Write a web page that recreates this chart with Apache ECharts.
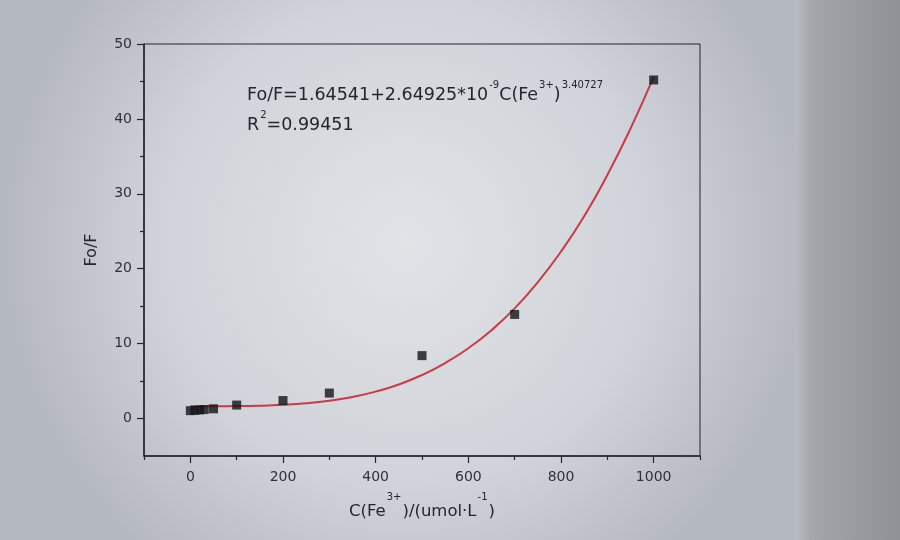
<!DOCTYPE html>
<html>
<head>
<meta charset="utf-8">
<title>Fo/F vs C(Fe3+)</title>
<script src="https://cdn.jsdelivr.net/npm/echarts@6/dist/echarts.min.js"></script>
<style>
  html, body { margin: 0; padding: 0; }
  #main { width: 900px; height: 540px; }
</style>
</head>
<body>
<div id="main"></div>
<script>
// measured points
const concValues = [0, 10, 20, 30, 50, 100, 200, 300, 500, 700, 1000];
const ratioValues = [1.05, 1.1, 1.15, 1.2, 1.3, 1.8, 2.4, 3.4, 8.4, 13.9, 45.2];

// fitted curve
const fitX = [0, 50, 100, 150, 200, 250, 300, 350, 400, 450, 500, 550, 600, 650, 700, 750, 800, 850, 900, 950, 1000];
const fitY = [1.65, 1.65, 1.66, 1.71, 1.83, 2.04, 2.38, 2.88, 3.59, 4.55, 5.81, 7.41, 9.39, 11.8, 14.7, 18.2, 22.3, 27.0, 32.5, 38.7, 45.6];

// tick labels
const xMajorTicks = [0, 200, 400, 600, 800, 1000];
const xMinorTicks = [-100, 100, 300, 500, 700, 900, 1100];
const yMajorTicks = [0, 10, 20, 30, 40, 50];
const yMinorTicks = [5, 15, 25, 35, 45];

const inkColor = "#22262d";
const fontName = "DejaVu Sans";

const chartInstance = echarts.init(document.getElementById("main"));

const toPairs = (xs, ys) => xs.map((x, i) => [x, ys[i]]);

const option = {
  backgroundColor: {
    type: "radial",
    x: 0.45,
    y: 0.45,
    r: 0.75,
    colorStops: [
      { offset: 0, color: "#e1e3e7" },
      { offset: 0.6, color: "#d0d3d9" },
      { offset: 1, color: "#b4b8bf" },
    ],
  },
  animation: false,
  textStyle: { fontFamily: fontName, color: inkColor },
  grid: {
    left: 144,
    right: 200,
    top: 44,
    bottom: 84,
    show: true,
    borderColor: inkColor,
    borderWidth: 1,
  },
  graphic: [
    // screen bezel on the right side of the photo
    {
      type: "rect",
      left: 795,
      top: 0,
      shape: { width: 105, height: 540 },
      style: {
        fill: {
          type: "linear",
          x: 0, y: 0, x2: 1, y2: 0,
          colorStops: [
            { offset: 0, color: "#b9bcc1" },
            { offset: 0.15, color: "#a3a6ab" },
            { offset: 1, color: "#8e9196" },
          ],
        },
      },
      z: -1,
    },
    // fit equation
    {
      type: "text",
      left: 247,
      top: 80,
      style: {
        text: "Fo/F=1.64541+2.64925*10{sup|-9}C(Fe{sup|3+}){sup|3.40727}\n{base|R}{sup|2}=0.99451",
        font: "17.5px " + fontName,
        fill: inkColor,
        lineHeight: 30,
        rich: {
          base: { fontSize: 17.5, fontFamily: fontName, lineHeight: 30 },
          sup: {
            fontSize: 10,
            fontFamily: fontName,
            verticalAlign: "top",
            lineHeight: 25,
            padding: [0, 0, 0, 1],
          },
        },
      },
    },
  ],
  xAxis: [
    {
      type: "value",
      min: -100,
      max: 1100,
      name: "{base|C(Fe}{sup|3+}{base|)/(umol·L}{sup|-1}{base|)}",
      nameLocation: "middle",
      nameGap: 36,
      nameTextStyle: {
        rich: {
          base: { fontSize: 16.5, fontFamily: fontName, color: inkColor, lineHeight: 40 },
          sup: { fontSize: 10, fontFamily: fontName, color: inkColor, verticalAlign: "top", lineHeight: 14, padding: [0, 1, 0, 1] },
        },
      },
      splitLine: { show: false },
      axisLine: { show: true, onZero: false, lineStyle: { color: inkColor, width: 1.5 } },
      axisTick: { show: true, length: 7, customValues: xMajorTicks, lineStyle: { color: inkColor, width: 1.2 } },
      axisLabel: {
        customValues: xMajorTicks,
        margin: 14,
        fontSize: 14,
        color: "#2d3138",
        formatter: (v) => String(v),
      },
    },
    {
      // minor ticks only
      type: "value",
      position: "bottom",
      min: -100,
      max: 1100,
      splitLine: { show: false },
      axisLine: { show: false, onZero: false },
      axisLabel: { show: false },
      axisTick: { show: true, length: 4, customValues: xMinorTicks, lineStyle: { color: inkColor, width: 1.2 } },
    },
  ],
  yAxis: [
    {
      type: "value",
      min: -5,
      max: 50,
      name: "Fo/F",
      nameLocation: "middle",
      nameRotate: 90,
      nameGap: 44,
      nameTextStyle: { fontSize: 16, fontFamily: fontName, color: inkColor },
      splitLine: { show: false },
      axisLine: { show: true, onZero: false, lineStyle: { color: inkColor, width: 1.5 } },
      axisTick: { show: true, length: 7, customValues: yMajorTicks, lineStyle: { color: inkColor, width: 1.2 } },
      axisLabel: { customValues: yMajorTicks, margin: 12, fontSize: 14, color: "#2d3138" },
    },
    {
      type: "value",
      position: "left",
      min: -5,
      max: 50,
      splitLine: { show: false },
      axisLine: { show: false, onZero: false },
      axisLabel: { show: false },
      axisTick: { show: true, length: 4, customValues: yMinorTicks, lineStyle: { color: inkColor, width: 1.2 } },
    },
  ],
  series: [
    {
      type: "line",
      name: "fit",
      data: toPairs(fitX, fitY),
      smooth: true,
      showSymbol: false,
      lineStyle: { color: "#cc3a44", width: 2 },
      z: 2,
    },
    {
      type: "scatter",
      name: "Fo/F",
      data: toPairs(concValues, ratioValues),
      symbol: "rect",
      symbolSize: 9,
      itemStyle: { color: "#121418" },
      z: 3,
    },
  ],
};

chartInstance.setOption(option);
</script>
</body>
</html>
